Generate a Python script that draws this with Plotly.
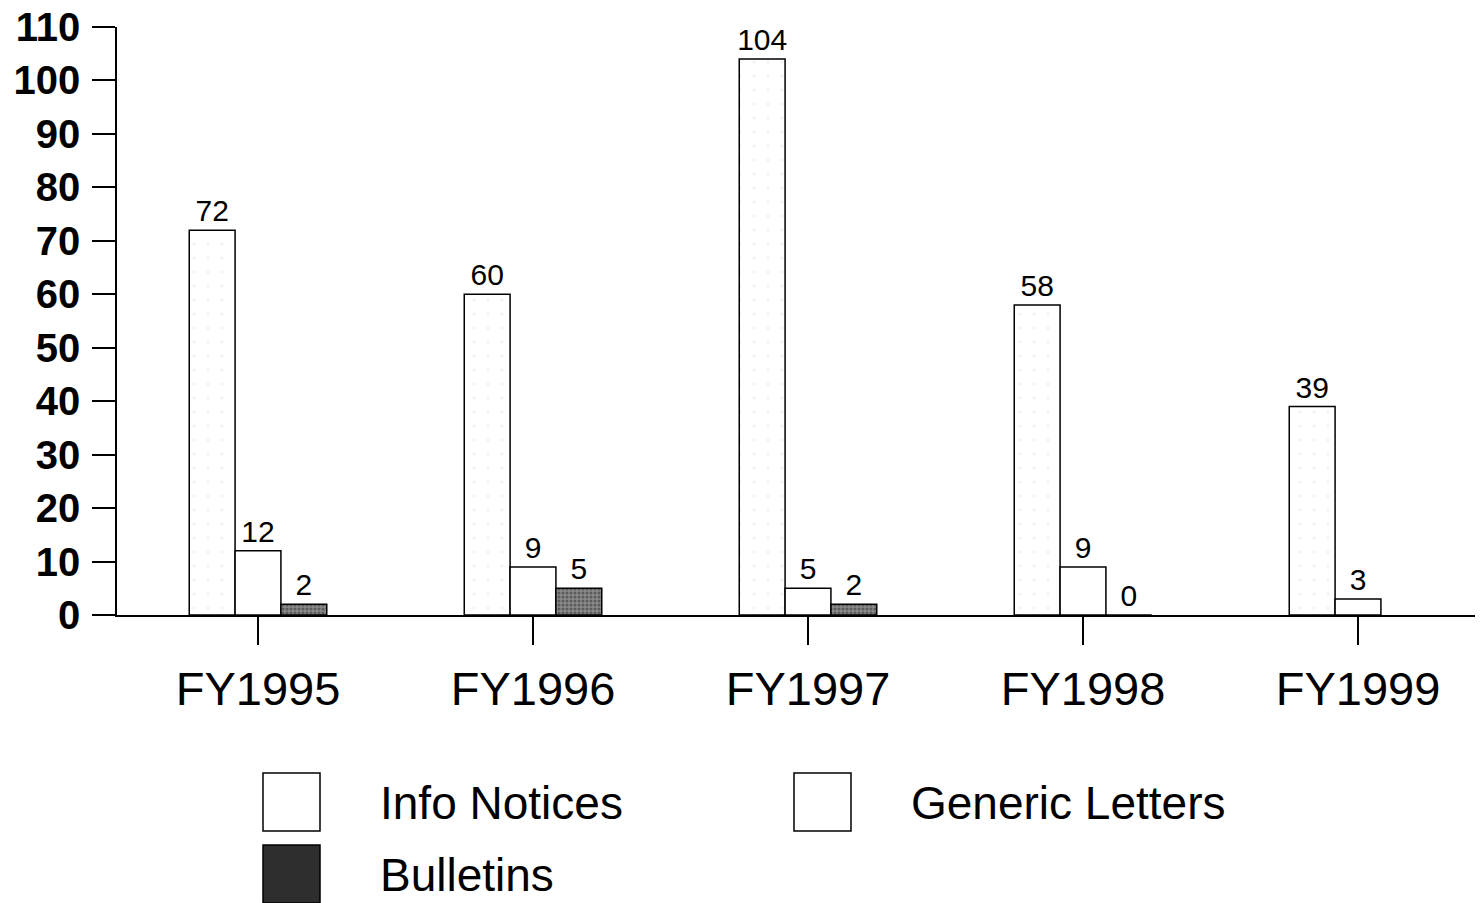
import plotly.graph_objects as go

years = ['FY1995', 'FY1996', 'FY1997', 'FY1998', 'FY1999']
info_notices = [72, 60, 104, 58, 39]
generic_letters = [12, 9, 5, 9, 3]
bulletins = [2, 5, 2, 0, None]

FONT = 'Liberation Sans, Arial, sans-serif'

# page body has an 8px margin, so the figure starts at (8, 8) in the window
OFF = 8
W, H = 1483 - OFF, 903 - OFF
# plot area in window pixels (from the reference)
L, R, T, B = 117, 1483, 27, 615


def px(x):
    return (x - L) / (R - L)


def py(y):
    return (B - y) / (B - T)


def lbl(vals):
    return ['' if v is None else str(v) for v in vals]


fig = go.Figure()
fig.add_trace(go.Bar(x=years, y=info_notices, name='Info Notices',
                     text=lbl(info_notices), textposition='outside',
                     marker=dict(color='white', line=dict(color='black', width=1.5),
                                 pattern=dict(shape='.', fgcolor='#e4e4e4', size=14, solidity=0.04))))
fig.add_trace(go.Bar(x=years, y=generic_letters, name='Generic Letters',
                     text=lbl(generic_letters), textposition='outside',
                     marker=dict(color='white', line=dict(color='black', width=1.5))))
fig.add_trace(go.Bar(x=years, y=bulletins, name='Bulletins',
                     text=lbl(bulletins), textposition='outside',
                     marker=dict(color='#8a8a8a', line=dict(color='black', width=1.5),
                                 pattern=dict(shape='.', fgcolor='#2a2a2a', size=4, solidity=0.45))))
fig.update_traces(textfont=dict(family=FONT, size=30, color='black'),
                  constraintext='none', cliponaxis=False)

# x range so that category centres fall where they do in the reference
step = 275
first = 258
x0 = (L - first) / step
x1 = x0 + (R - L) / step

fig.update_layout(
    width=W, height=H,
    margin=dict(l=L - OFF, r=0, t=T - OFF, b=H - (B - OFF)),
    plot_bgcolor='white', paper_bgcolor='white',
    barmode='group', bargap=0.5, bargroupgap=0,
    showlegend=False,
    font=dict(family=FONT, color='black'),
    xaxis=dict(range=[x0, x1], showline=True, linecolor='black', linewidth=1.5,
               ticks='outside', ticklen=28, tickwidth=1.5, tickcolor='black',
               tickfont=dict(size=47), ticklabelstandoff=4, showgrid=False,
               automargin=False),
    yaxis=dict(range=[0, 110], dtick=10, showline=True, linecolor='black', linewidth=1.5,
               ticks='outside', ticklen=23, tickwidth=1.5, tickcolor='black',
               tickfont=dict(size=40, family='Liberation Sans, Arial', weight='bold'),
               ticklabelstandoff=4, ticklabeloverflow='allow',
               showgrid=False, zeroline=False, automargin=False),
)

# legend drawn by hand so the swatches can be as large as in the original
legend = [
    ('Info Notices', 263, 773, 'white'),
    ('Generic Letters', 794, 773, 'white'),
    ('Bulletins', 263, 845, '#2e2e2e'),
]
for name, sx, sy, col in legend:
    fig.add_shape(type='rect', xref='paper', yref='paper',
                  x0=px(sx), x1=px(sx + 57), y0=py(sy + 58), y1=py(sy),
                  line=dict(color='black', width=1.5), fillcolor=col, layer='above')
    fig.add_annotation(xref='paper', yref='paper', x=px(sx + 115), y=py(sy + 30),
                       text=name, showarrow=False, xanchor='left', yanchor='middle',
                       font=dict(family=FONT, size=46, color='black'))

fig.write_html('out.html')
